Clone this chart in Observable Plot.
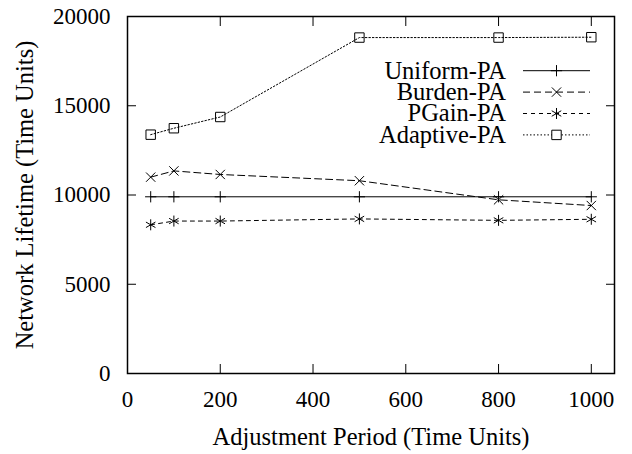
<!DOCTYPE html>
<html><head><meta charset="utf-8">
<script src="https://cdn.jsdelivr.net/npm/d3@7"></script>
<script src="https://cdn.jsdelivr.net/npm/@observablehq/plot@0.6"></script>
<style>body{margin:0;background:#fff}</style>
</head><body><div id="chart"></div>
<script>
// ---- data ----
const periods = [50, 100, 200, 500, 800, 1000];
const seriesNames = ["Uniform-PA", "Burden-PA", "PGain-PA", "Adaptive-PA"];
const uniformPA  = [9900, 9900, 9900, 9900, 9900, 9900];
const burdenPA   = [11000, 11350, 11150, 10800, 9730, 9410];
const pgainPA    = [8330, 8540, 8540, 8660, 8580, 8640];
const adaptivePA = [13380, 13740, 14370, 18820, 18820, 18840];
const xTicks = [0, 200, 400, 600, 800, 1000];
const yTicks = [0, 5000, 10000, 15000, 20000];
const xTitle = "Adjustment Period (Time Units)";
const yTitle = "Network Lifetime (Time Units)";

// ---- styles ----
const seriesValues = [uniformPA, burdenPA, pgainPA, adaptivePA];
const styles = [
  {dash: null, symbol: "plus", r: 3.7},
  {dash: "7,4", symbol: "times", r: 4.3},
  {dash: "4,4", symbol: "asterisk", r: 5.2},
  {dash: "1.5,2", symbol: "square2", r: 6}
];
const d3Symbols = {plus: d3.symbolPlus, times: d3.symbolTimes, asterisk: d3.symbolAsterisk, square2: d3.symbolSquare2};
const bigFont = 24.5;

const rows = seriesNames.map((s, i) => periods.map((p, j) => ({series: s, x: p, y: seriesValues[i][j]})));

const marks = [];
rows.forEach((data, i) => {
  const st = styles[i];
  marks.push(Plot.line(data, {x: "x", y: "y", stroke: "black", strokeWidth: 1, strokeDasharray: st.dash}));
  marks.push(Plot.dot(data, {x: "x", y: "y", symbol: () => st.symbol, r: st.r, stroke: "black", strokeWidth: 1, fill: "none"}));
});

const fmt = d => String(d);
marks.push(Plot.axisX({anchor: "bottom", ticks: xTicks, tickSize: -9, tickPadding: 26, tickFormat: fmt, label: null}));
marks.push(Plot.axisX({anchor: "top", ticks: xTicks, tickSize: -9, tickFormat: () => "", label: null}));
marks.push(Plot.axisY({anchor: "left", ticks: yTicks, tickSize: -9, tickPadding: 26, tickFormat: fmt, label: null}));
marks.push(Plot.axisY({anchor: "right", ticks: yTicks, tickSize: -9, tickFormat: () => "", label: null}));
marks.push(Plot.frame({stroke: "black", strokeWidth: 1.5}));

// axis titles
marks.push(Plot.text([xTitle], {text: d => d, frameAnchor: "bottom", dy: 64, textAnchor: "middle", lineAnchor: "middle", fontSize: bigFont, fill: "black"}));
marks.push(Plot.text([yTitle], {text: d => d, frameAnchor: "left", rotate: -90, dx: -102, textAnchor: "middle", lineAnchor: "middle", fontSize: bigFont, fill: "black"}));

// legend inside the plot (top-right)
marks.push((index, scales, values, dims) => {
  const g = d3.create("svg:g").attr("font-size", bigFont);
  const right = dims.width - dims.marginRight;
  seriesNames.forEach((name, i) => {
    const st = styles[i];
    const y = dims.marginTop + 54.7 + i * 21.4;
    g.append("text").attr("x", right - 108).attr("y", y).attr("dy", "0.32em")
      .attr("text-anchor", "end").attr("fill", "black").text(name);
    g.append("line").attr("x1", right - 91).attr("x2", right - 24).attr("y1", y).attr("y2", y)
      .attr("stroke", "black").attr("stroke-width", 1).attr("stroke-dasharray", st.dash);
    g.append("path").attr("transform", `translate(${right - 57.5},${y})`)
      .attr("d", d3.symbol(d3Symbols[st.symbol], Math.PI * st.r * st.r)())
      .attr("fill", st.symbol === "square2" ? "white" : "none").attr("stroke", "black").attr("stroke-width", 1);
  });
  return g.node();
});

const chart = Plot.plot({
  width: 632,
  height: 454,
  marginLeft: 127,
  marginRight: 18,
  marginTop: 16,
  marginBottom: 81,
  style: {fontFamily: "'Liberation Serif', 'Times New Roman', serif", fontSize: "23px", background: "white", color: "black"},
  x: {domain: [0, 1050]},
  y: {domain: [0, 20000]},
  marks
});
document.getElementById("chart").appendChild(chart);
</script>
</body></html>
